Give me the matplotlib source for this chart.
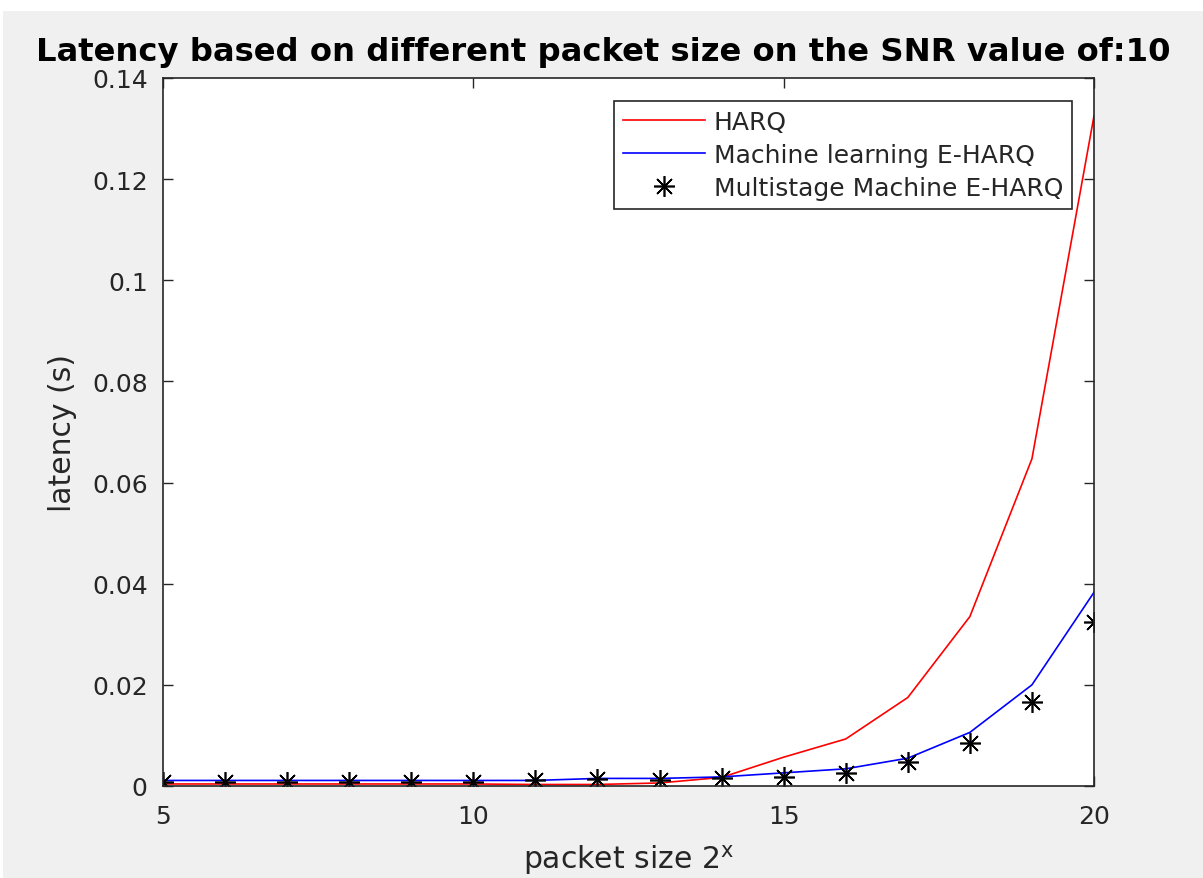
import matplotlib
matplotlib.use("Agg")
import matplotlib.pyplot as plt
from matplotlib.patches import Rectangle

# packet size exponent (packet size = 2^x)
packet_exp = [5, 6, 7, 8, 9, 10, 11, 12, 13, 14, 15, 16, 17, 18, 19, 20]

# latency in seconds
harq = [0.0004, 0.0004, 0.0004, 0.0004, 0.0004, 0.0004, 0.0003, 0.0003,
        0.0006, 0.0017, 0.0057, 0.0093, 0.0175, 0.0335, 0.0647, 0.1325]
ml_eharq = [0.0011, 0.0011, 0.0011, 0.0011, 0.0011, 0.0011, 0.0011, 0.0015,
            0.0015, 0.0018, 0.0026, 0.0034, 0.0055, 0.0106, 0.0200, 0.0383]
multistage = [0.0007, 0.0007, 0.0007, 0.0007, 0.0007, 0.0007, 0.0012, 0.0013,
              0.0012, 0.0015, 0.0017, 0.0026, 0.0047, 0.0086, 0.0166, 0.0325]

series_labels = ["HARQ", "Machine learning E-HARQ", "Multistage Machine E-HARQ"]
x_ticks = [5, 10, 15, 20]
y_ticks = [0, 0.02, 0.04, 0.06, 0.08, 0.1, 0.12, 0.14]
y_tick_labels = ["0", "0.02", "0.04", "0.06", "0.08", "0.1", "0.12", "0.14"]

W, H = 1203, 879
fig = plt.figure(figsize=(W / 100, H / 100), dpi=100, facecolor="white")
fig.patches.append(Rectangle((3 / W, 0), 1, 1 - 12 / H, transform=fig.transFigure,
                             facecolor="#f0f0f0", edgecolor="none", zorder=-10))

ax = fig.add_axes([163 / W, 1 - 787 / H, (1094 - 163) / W, (787 - 79) / H])
ax.set_facecolor("white")

dark = "#262626"
ax.plot(packet_exp, harq, color="#ff0000", lw=1.2, label=series_labels[0])
ax.plot(packet_exp, ml_eharq, color="#0000ff", lw=1.2, label=series_labels[1])
ax.plot(packet_exp, multistage, linestyle="none", marker=(8, 2, 0), markersize=15,
        markeredgewidth=1.2, color="black", label=series_labels[2])

ax.set_xlim(5, 20)
ax.set_ylim(0, 0.14)
ax.set_xticks(x_ticks)
ax.set_xticklabels([str(v) for v in x_ticks])
ax.set_yticks(y_ticks)
ax.set_yticklabels(y_tick_labels)
ax.tick_params(direction="in", length=7, width=1, colors=dark, labelsize=18,
               top=True, right=True)
ax.tick_params(axis="y", pad=11)
ax.tick_params(axis="x", pad=13)
for s in ax.spines.values():
    s.set_color(dark)
    s.set_linewidth(1.2)

ax.set_xlabel("packet size 2$^{\\mathregular{x}}$", fontsize=21.5, color=dark, labelpad=10)
ax.set_ylabel("latency (s)", fontsize=21.5, color=dark, labelpad=11)

fig.text(0.5 * (37 + 1170) / W, 1 - 53 / H,
         "Latency based on different packet size on the SNR value of:10",
         ha="center", va="center", fontsize=23.2, fontweight="bold", color="black")

leg = ax.legend(loc="upper right", bbox_to_anchor=(1072 / W, 1 - 102 / H),
                bbox_transform=fig.transFigure, fontsize=18, frameon=True,
                fancybox=False, edgecolor=dark, framealpha=1, borderpad=0.35,
                labelspacing=0.36, handlelength=3.3, handletextpad=0.35,
                borderaxespad=0)
leg.get_frame().set_linewidth(1.2)
for t in leg.get_texts():
    t.set_color(dark)

fig.savefig("out.png", dpi=100, facecolor=fig.get_facecolor())
